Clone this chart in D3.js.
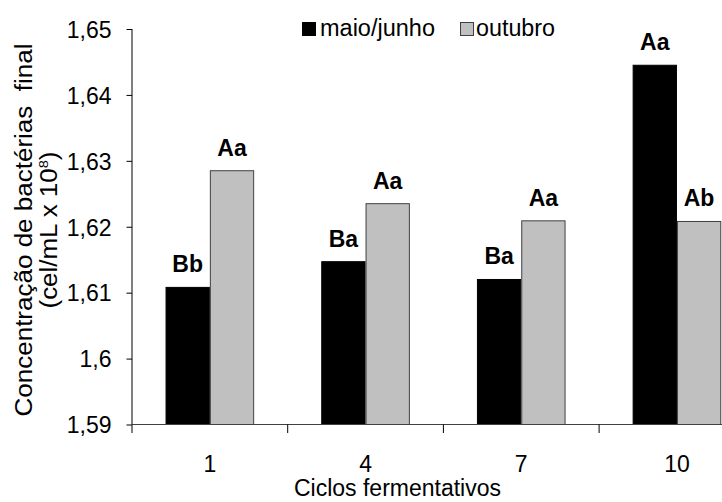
<!DOCTYPE html>
<html>
<head>
<meta charset="utf-8">
<script src="https://cdn.jsdelivr.net/npm/d3@7/dist/d3.min.js"></script>
<style>
  html, body { margin: 0; padding: 0; background: #fff; }
  svg { display: block; }
  text { font-family: "Liberation Sans", Arial, sans-serif; fill: #000; }
</style>
</head>
<body>
<svg id="chart" width="722" height="502"></svg>
<script>
// Fermentation cycles on the x axis
const categories = ["1", "4", "7", "10"];
// Series (sampling periods)
const seriesNames = ["maio/junho", "outubro"];
// Final bacteria concentration (cel/mL x 10^8)
const maioJunho = [1.6108, 1.6147, 1.6120, 1.6445];
const outubro = [1.6285, 1.6235, 1.6209, 1.6208];
// Statistical letters shown above each bar
const maioJunhoLetters = ["Bb", "Ba", "Ba", "Aa"];
const outubroLetters = ["Aa", "Aa", "Aa", "Ab"];
// Y axis ticks and their labels
const yTickValues = [1.59, 1.60, 1.61, 1.62, 1.63, 1.64, 1.65];
const yTickLabels = ["1,59", "1,6", "1,61", "1,62", "1,63", "1,64", "1,65"];

const svg = d3.select("#chart");
const FONT = 23;

const plot = { left: 132, top: 29, bottom: 424.5, step: 155.7 };

const x = d3.scaleBand()
  .domain(categories)
  .range([plot.left, plot.left + plot.step * categories.length])
  .padding(0);

const xSeries = d3.scaleBand()
  .domain(seriesNames)
  .range([0, x.bandwidth()])
  .paddingInner(0)
  .paddingOuter(0.757);

const y = d3.scaleLinear()
  .domain([1.59, 1.65])
  .range([plot.bottom, plot.top]);

const colors = d3.scaleOrdinal().domain(seriesNames).range(["#000000", "#c0c0c0"]);
const strokes = d3.scaleOrdinal().domain(seriesNames).range(["#000000", "#404040"]);

const rows = categories.map((c, i) => ({
  cat: c,
  values: [
    { s: seriesNames[0], v: maioJunho[i], letter: maioJunhoLetters[i] },
    { s: seriesNames[1], v: outubro[i], letter: outubroLetters[i] }
  ]
}));

// Bars
const groups = svg.append("g").selectAll("g")
  .data(rows).join("g")
  .attr("transform", d => `translate(${x(d.cat)},0)`);

groups.selectAll("rect")
  .data(d => d.values).join("rect")
  .attr("x", d => xSeries(d.s) + 0.5)
  .attr("width", xSeries.bandwidth() - 1)
  .attr("y", d => y(d.v))
  .attr("height", d => y(1.59) - y(d.v))
  .attr("fill", d => colors(d.s))
  .attr("stroke", d => strokes(d.s))
  .attr("stroke-width", 1);

// Letters above the bars
groups.selectAll("text.lbl")
  .data(d => d.values).join("text")
  .attr("class", "lbl")
  .attr("x", d => xSeries(d.s) + xSeries.bandwidth() / 2)
  .attr("y", d => y(d.v) - 15)
  .attr("text-anchor", "middle")
  .attr("font-weight", "bold")
  .attr("font-size", FONT)
  .text(d => d.letter);

// Y axis
const yAxis = d3.axisLeft(y)
  .tickValues(yTickValues)
  .tickFormat((d, i) => yTickLabels[i])
  .tickSize(5.5)
  .tickPadding(15);

const gy = svg.append("g")
  .attr("transform", `translate(${plot.left},0)`)
  .call(yAxis);
gy.select(".domain").remove();
gy.selectAll(".tick line").attr("stroke", "#000");
gy.selectAll(".tick text")
  .attr("font-size", FONT)
  .attr("font-family", "\"Liberation Sans\", Arial, sans-serif")
  .attr("fill", "#000")
  .attr("dy", "0.36em");
gy.append("line")
  .attr("x1", 0).attr("x2", 0)
  .attr("y1", y(1.65)).attr("y2", plot.bottom + 8.5)
  .attr("stroke", "#000");

// X axis: baseline, boundary ticks, category labels
const gx = svg.append("g");
gx.append("line")
  .attr("x1", plot.left).attr("x2", x.range()[1])
  .attr("y1", plot.bottom).attr("y2", plot.bottom)
  .attr("stroke", "#404040");
gx.selectAll("line.bt")
  .data(categories.slice(1)).join("line")
  .attr("class", "bt")
  .attr("x1", d => x(d)).attr("x2", d => x(d))
  .attr("y1", plot.bottom).attr("y2", plot.bottom + 8.5)
  .attr("stroke", "#000");
gx.selectAll("text")
  .data(categories).join("text")
  .attr("x", d => x(d) + x.bandwidth() / 2)
  .attr("y", 472)
  .attr("text-anchor", "middle")
  .attr("font-size", FONT)
  .text(d => d);

// Axis titles
svg.append("text")
  .attr("x", 397.5).attr("y", 496)
  .attr("text-anchor", "middle")
  .attr("font-size", FONT)
  .text("Ciclos fermentativos");

const t1 = svg.append("g").attr("transform", "translate(32,230) rotate(-90)");
t1.append("text")
  .attr("x", -186.5).attr("y", 0)
  .attr("font-size", FONT)
  .attr("textLength", 373)
  .attr("lengthAdjust", "spacingAndGlyphs")
  .style("white-space", "pre")
  .text("Concentração de bactérias  final");

const t2 = svg.append("g").attr("transform", "translate(57,230) rotate(-90)");
const t2text = t2.append("text")
  .attr("x", -78.5).attr("y", 0)
  .attr("font-size", FONT)
  .attr("textLength", 157)
  .attr("lengthAdjust", "spacingAndGlyphs");
t2text.append("tspan").text("(cel/mL x 10");
t2text.append("tspan").attr("font-size", 13).attr("dy", -9).text("8");
t2text.append("tspan").attr("dy", 9).text(")");

// Legend
const legend = svg.append("g");
const legendItems = [
  { s: seriesNames[0], bx: 302, tx: 320, len: 115 },
  { s: seriesNames[1], bx: 460, tx: 476, len: 79 }
];
legend.selectAll("rect")
  .data(legendItems).join("rect")
  .attr("x", d => d.bx + 0.5).attr("y", 22.5)
  .attr("width", 13).attr("height", 13)
  .attr("fill", d => colors(d.s))
  .attr("stroke", d => strokes(d.s));
legend.selectAll("text")
  .data(legendItems).join("text")
  .attr("x", d => d.tx).attr("y", 36)
  .attr("font-size", FONT)
  .attr("textLength", d => d.len)
  .attr("lengthAdjust", "spacingAndGlyphs")
  .text(d => d.s);
</script>
</body>
</html>
